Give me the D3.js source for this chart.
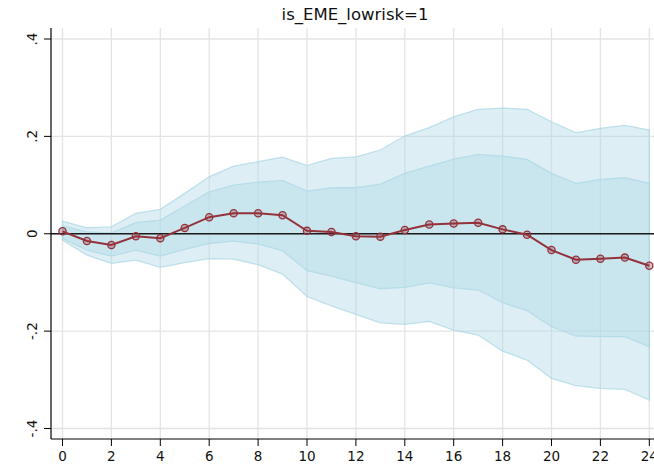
<!DOCTYPE html>
<html>
<head>
<meta charset="utf-8">
<script src="https://cdn.jsdelivr.net/npm/d3@7"></script>
<style>
  body { margin: 0; background: #fff; }
  text { font-family: "DejaVu Sans", sans-serif; }
</style>
</head>
<body>
<script>
// Horizons and response estimates
const horizon = d3.range(0, 25);
const irf = [0.005, -0.015, -0.023, -0.005, -0.009, 0.012, 0.034, 0.042, 0.042, 0.038,
  0.006, 0.0035, -0.005, -0.006, 0.0076, 0.019, 0.021, 0.0226, 0.009, -0.002,
  -0.0335, -0.0534, -0.0513, -0.049, -0.0657];
// Inner band
const innerUp = [0.016, 0.004, 0.002, 0.023, 0.028, 0.057, 0.086, 0.100, 0.106, 0.1096,
  0.0877, 0.0945, 0.0945, 0.102, 0.124, 0.139, 0.1534, 0.163, 0.1596, 0.1528,
  0.124, 0.1035, 0.1117, 0.115, 0.1035];
const innerLo = [-0.0095, -0.0335, -0.046, -0.0335, -0.046, -0.032, -0.020, -0.015, -0.021, -0.035,
  -0.076, -0.087, -0.1006, -0.113, -0.110, -0.101, -0.111, -0.1156, -0.1417, -0.158,
  -0.191, -0.210, -0.2115, -0.2115, -0.232];
// Outer band
const outerUp = [0.026, 0.0123, 0.014, 0.042, 0.050, 0.083, 0.117, 0.139, 0.148, 0.1575,
  0.140, 0.155, 0.158, 0.172, 0.2007, 0.218, 0.240, 0.2555, 0.258, 0.2555,
  0.230, 0.2074, 0.2165, 0.2226, 0.213];
const outerLo = [-0.013, -0.044, -0.061, -0.054, -0.069, -0.0595, -0.051, -0.052, -0.0636, -0.0828,
  -0.129, -0.148, -0.1655, -0.183, -0.186, -0.180, -0.198, -0.208, -0.241, -0.2594,
  -0.297, -0.312, -0.3175, -0.3196, -0.3416];
const xTicks = d3.range(0, 25, 2);
const yTicks = [-0.4, -0.2, 0, 0.2, 0.4];
const yTickLabels = ["-.4", "-.2", "0", ".2", ".4"];

const W = 654, H = 466;
const LEFT = 51, RIGHT = 656, TOP = 28, BOTTOM = 439;

const x = d3.scaleLinear().domain([0, 24]).range([62.5, 649.3]);
const y = d3.scaleLinear().domain([-0.4, 0.4]).range([428.5, 39]);

const svg = d3.select("body").append("svg")
  .attr("width", W)
  .attr("height", H);

// Title
svg.append("text")
  .attr("x", 355)
  .attr("y", 20)
  .attr("text-anchor", "middle")
  .attr("font-size", 16.5)
  .attr("fill", "#111")
  .text("is_EME_lowrisk=1");

// Grid
svg.append("g").selectAll("line").data(xTicks).join("line")
  .attr("x1", d => x(d)).attr("x2", d => x(d))
  .attr("y1", TOP).attr("y2", BOTTOM)
  .attr("stroke", "#e4e4e4").attr("stroke-width", 1.3);
svg.append("g").selectAll("line").data(yTicks).join("line")
  .attr("x1", LEFT).attr("x2", RIGHT)
  .attr("y1", d => y(d)).attr("y2", d => y(d))
  .attr("stroke", "#e4e4e4").attr("stroke-width", 1.3);

// Bands
const data = horizon.map((h, i) => ({h: h, irf: irf[i], iu: innerUp[i], il: innerLo[i], ou: outerUp[i], ol: outerLo[i]}));
const bandFill = "#add8e6";

const outerArea = d3.area().x(d => x(d.h)).y0(d => y(d.ol)).y1(d => y(d.ou));
const innerArea = d3.area().x(d => x(d.h)).y0(d => y(d.il)).y1(d => y(d.iu));

svg.append("path").datum(data)
  .attr("d", outerArea)
  .attr("fill", bandFill).attr("fill-opacity", 0.42)
  .attr("stroke", bandFill).attr("stroke-opacity", 0.75).attr("stroke-width", 1.3);
svg.append("path").datum(data)
  .attr("d", innerArea)
  .attr("fill", bandFill).attr("fill-opacity", 0.42)
  .attr("stroke", bandFill).attr("stroke-opacity", 0.75).attr("stroke-width", 1.3);

// Zero line
svg.append("line")
  .attr("x1", LEFT).attr("x2", RIGHT)
  .attr("y1", y(0)).attr("y2", y(0))
  .attr("stroke", "#1a1a1a").attr("stroke-width", 1.5);

// Response line and markers
const red = "#94323c";
svg.append("path").datum(data)
  .attr("d", d3.line().x(d => x(d.h)).y(d => y(d.irf)))
  .attr("fill", "none")
  .attr("stroke", red).attr("stroke-width", 2);
svg.append("g").selectAll("circle").data(data).join("circle")
  .attr("cx", d => x(d.h)).attr("cy", d => y(d.irf))
  .attr("r", 3.6)
  .attr("fill", red).attr("fill-opacity", 0.3)
  .attr("stroke", red).attr("stroke-width", 1.3);

// Axes
const xAxis = svg.append("g").attr("transform", `translate(0,${BOTTOM})`);
xAxis.append("line").attr("x1", LEFT).attr("x2", RIGHT).attr("stroke", "#000").attr("stroke-width", 1.2);
xAxis.selectAll("line.tick").data(xTicks).join("line")
  .attr("class", "tick")
  .attr("x1", d => x(d)).attr("x2", d => x(d))
  .attr("y1", 0).attr("y2", 7)
  .attr("stroke", "#000").attr("stroke-width", 1);
xAxis.selectAll("text").data(xTicks).join("text")
  .attr("x", d => x(d)).attr("y", 22)
  .attr("text-anchor", "middle")
  .attr("font-size", 13.5)
  .attr("fill", "#111")
  .text(d => d);

const yAxis = svg.append("g").attr("transform", `translate(${LEFT},0)`);
yAxis.append("line").attr("y1", TOP).attr("y2", BOTTOM).attr("stroke", "#000").attr("stroke-width", 1.2);
yAxis.selectAll("line.tick").data(yTicks).join("line")
  .attr("class", "tick")
  .attr("y1", d => y(d)).attr("y2", d => y(d))
  .attr("x1", -7).attr("x2", 0)
  .attr("stroke", "#000").attr("stroke-width", 1);
yAxis.selectAll("text").data(yTicks).join("text")
  .attr("transform", d => `translate(-14,${y(d)}) rotate(-90)`)
  .attr("text-anchor", "middle")
  .attr("font-size", 13.5)
  .attr("fill", "#111")
  .text((d, i) => yTickLabels[i]);
</script>
</body>
</html>
